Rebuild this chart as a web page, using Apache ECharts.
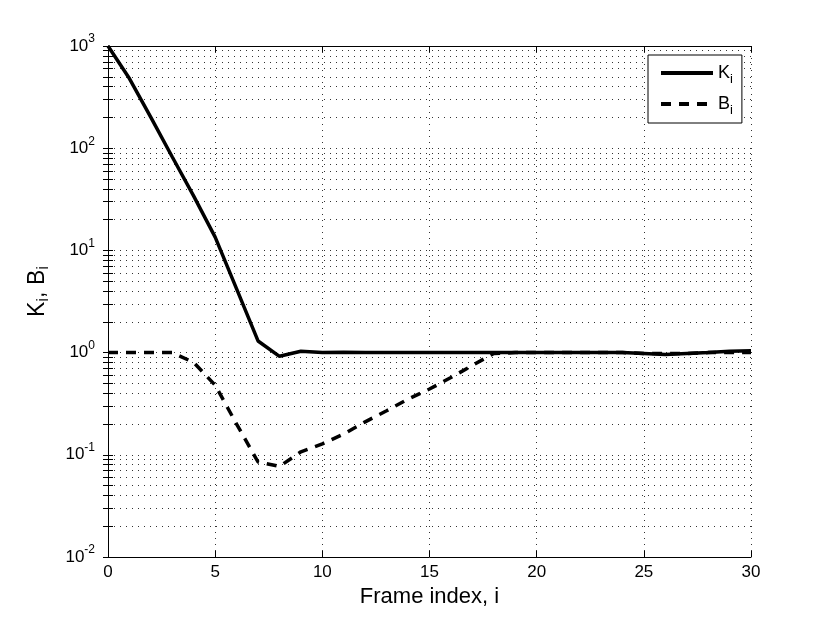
<!DOCTYPE html>
<html>
<head>
<meta charset="utf-8">
<script src="https://cdn.jsdelivr.net/npm/echarts@6/dist/echarts.min.js"></script>
<style>html,body{margin:0;padding:0;background:#fff}#c{width:830px;height:625px}</style>
</head>
<body>
<div id="c"></div>
<script>
// ---- data ----
const frameIndex = [0,1,2,3,4,5,6,7,8,9,10,11,12,13,14,15,16,17,18,19,20,21,22,23,24,25,26,27,28,29,30];
const K = [1000,480,200,82,34,13.5,4.2,1.3,0.92,1.03,1.0,1.01,1.0,1.0,1.0,1.0,1.0,1.0,1.0,1.0,1.0,1.0,1.0,1.0,1.0,0.98,0.96,0.98,1.0,1.03,1.04];
const B = [1,1,1,1,0.8,0.48,0.2,0.085,0.077,0.107,0.128,0.16,0.21,0.27,0.35,0.44,0.57,0.75,0.98,1,1,1,1,1,1,0.98,0.98,0.98,1,1,1];
const yDecades = [0.01,0.1,1,10,100,1000];
const yMinorFactors = [1,2,3,4,5,6,7,8,9];
const xTicks = [0,5,10,15,20,25,30];

const yAllTicks = [];
yDecades.forEach(d => { if (d < 1000) yMinorFactors.forEach(f => yAllTicks.push(+(d*f).toPrecision(6))); else yAllTicks.push(d); });

const FONT = 'Liberation Sans, Arial, Helvetica, sans-serif';
const kData = frameIndex.map((x,i)=>[x,K[i]]);
const bData = frameIndex.map((x,i)=>[x,B[i]]);

const axisLineStyle = {show:true, lineStyle:{color:'#000', width:1}};
const gridDot = {show:true, lineStyle:{color:'#333', width:1, type:[1,5]}};

const yBase = {
  type:'log', logBase:10, min:0.01, max:1000,
  axisLine: axisLineStyle,
  axisTick:{show:true, inside:true, length:5, lineStyle:{color:'#000'}, customValues: yAllTicks},
  minorTick:{show:false}
};

const chart = echarts.init(document.getElementById('c'), null, {renderer:'canvas'});
chart.setOption({
  animation:false,
  backgroundColor:'#fff',
  grid:{left:108, right:79, top:46, bottom:68, containLabel:false},
  legend:{
    orient:'vertical', left:648, top:55,
    padding:[5,9,6,11], itemGap:5, itemWidth:52, itemHeight:14,
    borderColor:'#000', borderWidth:1, backgroundColor:'#fff',
    itemStyle:{opacity:0},
    lineStyle:{width:4},
    data:['K','B'],
    formatter: n => n + '{sub|i}',
    textStyle:{fontFamily:FONT, fontSize:18, color:'#000', lineHeight:26,
      rich:{sub:{fontSize:13, fontFamily:FONT, color:'#000', verticalAlign:'bottom', lineHeight:26}}}
  },
  xAxis:[{
    type:'value', min:0, max:30, interval:5,
    name:'Frame index, i', nameLocation:'middle', nameGap:23,
    nameTextStyle:{fontFamily:FONT, fontSize:22, color:'#000'},
    axisLine: axisLineStyle,
    axisTick:{show:true, inside:true, length:6, lineStyle:{color:'#000'}},
    axisLabel:{fontFamily:FONT, fontSize:17, color:'#000', margin:7},
    splitLine: gridDot
  },{
    type:'value', min:0, max:30, interval:5, position:'top',
    axisLine: axisLineStyle,
    axisTick:{show:true, inside:true, length:6, lineStyle:{color:'#000'}},
    axisLabel:{show:false}, splitLine:{show:false}
  }],
  yAxis:[Object.assign({}, yBase, {
    position:'left',
    name:'K{sub|i}, B{sub|i}', nameLocation:'middle', nameGap:56, nameRotate:90,
    nameTextStyle:{fontFamily:FONT, fontSize:23, color:'#000', lineHeight:28, padding:[0,0,0,20],
      rich:{sub:{fontSize:17, fontFamily:FONT, color:'#000', verticalAlign:'bottom', lineHeight:28}}},
    axisLabel:{customValues: yDecades, margin:13,
      formatter: v => '10{sup|' + Math.round(Math.log10(v)) + '}',
      fontFamily:FONT, fontSize:17, color:'#000', lineHeight:26,
      rich:{sup:{fontSize:12, fontFamily:FONT, color:'#000', verticalAlign:'top', lineHeight:14}}},
    splitLine: gridDot
  }), Object.assign({}, yBase, {
    position:'right',
    axisLabel:{show:false}, splitLine:{show:false}
  })],
  series:[{
    name:'K', type:'line', data:kData, xAxisIndex:0, yAxisIndex:0,
    showSymbol:false, symbol:'none',
    lineStyle:{color:'#000', width:3.5, type:'solid'}, itemStyle:{color:'#000'}
  },{
    name:'B', type:'line', data:bData, xAxisIndex:0, yAxisIndex:0,
    showSymbol:false, symbol:'none',
    lineStyle:{color:'#000', width:3.5, type:[10,8]}, itemStyle:{color:'#000'}
  }]
});
</script>
</body>
</html>
